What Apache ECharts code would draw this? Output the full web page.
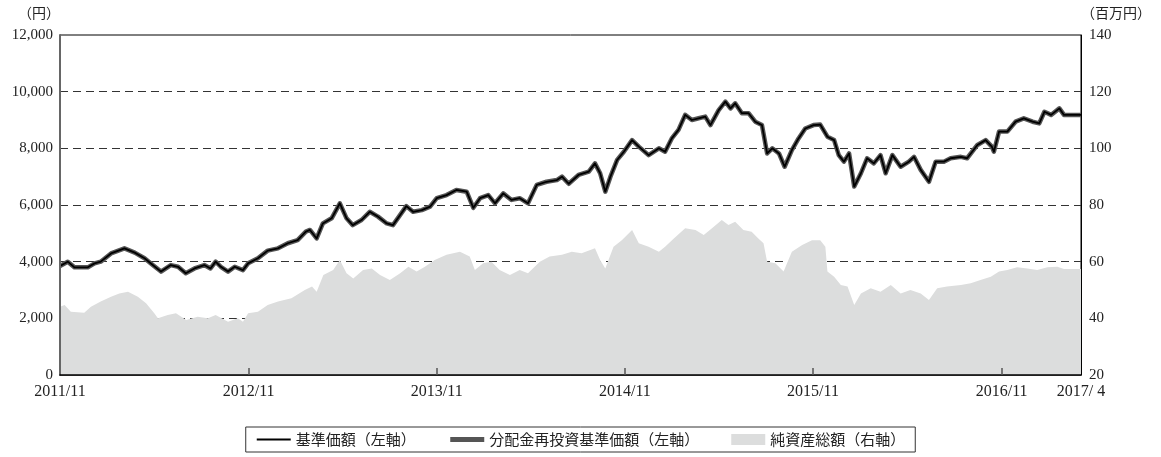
<!DOCTYPE html>
<html><head><meta charset="utf-8">
<script src="https://cdn.jsdelivr.net/npm/echarts@6/dist/echarts.min.js"></script>
<style>html,body{margin:0;padding:0;background:#fff}#c{width:1161px;height:457px}</style>
</head><body><div id="c"></div>
<script>
const navDates = ['2011-11-01','2011-11-16','2011-11-29','2011-12-25','2012-01-07','2012-01-19','2012-02-08','2012-03-05','2012-03-25','2012-04-13','2012-04-29','2012-05-15','2012-06-03','2012-06-17','2012-07-02','2012-07-19','2012-08-07','2012-08-19','2012-08-29','2012-09-08','2012-09-22','2012-10-05','2012-10-21','2012-10-31','2012-11-19','2012-12-08','2012-12-28','2013-01-16','2013-02-04','2013-02-20','2013-02-28','2013-03-13','2013-03-25','2013-04-11','2013-04-27','2013-05-10','2013-05-22','2013-06-08','2013-06-24','2013-07-10','2013-07-27','2013-08-08','2013-08-22','2013-09-03','2013-09-16','2013-10-03','2013-10-19','2013-11-01','2013-11-20','2013-12-09','2013-12-29','2014-01-11','2014-01-24','2014-02-09','2014-02-22','2014-03-10','2014-03-26','2014-04-11','2014-04-27','2014-05-14','2014-06-02','2014-06-22','2014-07-02','2014-07-15','2014-08-03','2014-08-23','2014-09-04','2014-09-14','2014-09-24','2014-10-04','2014-10-17','2014-10-30','2014-11-15','2014-11-28','2014-12-17','2015-01-06','2015-01-18','2015-01-31','2015-02-13','2015-02-26','2015-03-11','2015-03-24','2015-04-06','2015-04-16','2015-05-02','2015-05-15','2015-05-25','2015-06-03','2015-06-16','2015-06-29','2015-07-12','2015-07-25','2015-08-04','2015-08-14','2015-08-27','2015-09-07','2015-09-21','2015-10-04','2015-10-17','2015-11-02','2015-11-15','2015-11-29','2015-12-12','2015-12-21','2015-12-31','2016-01-10','2016-01-20','2016-02-02','2016-02-14','2016-02-27','2016-03-11','2016-03-21','2016-04-03','2016-04-19','2016-05-05','2016-05-15','2016-05-28','2016-06-13','2016-06-26','2016-07-12','2016-07-25','2016-08-14','2016-08-26','2016-09-15','2016-10-01','2016-10-13','2016-10-17','2016-10-27','2016-11-12','2016-11-28','2016-12-14','2016-12-31','2017-01-13','2017-01-23','2017-02-05','2017-02-21','2017-03-02','2017-04-04'];
const navValues = [3850,4000,3800,3800,3940,4000,4290,4470,4320,4120,3880,3650,3880,3820,3590,3760,3880,3760,4000,3820,3650,3820,3700,3940,4120,4390,4470,4650,4760,5060,5120,4820,5350,5530,6060,5530,5290,5470,5760,5590,5350,5290,5650,5960,5760,5820,5940,6240,6350,6530,6470,5900,6240,6350,6060,6410,6180,6240,6060,6710,6820,6880,7000,6750,7060,7180,7470,7120,6470,7000,7590,7880,8290,8060,7760,8000,7880,8350,8650,9180,9000,9060,9120,8820,9350,9650,9410,9590,9240,9240,8940,8820,7820,8000,7820,7350,7940,8350,8700,8820,8840,8410,8290,7760,7530,7820,6650,7120,7650,7470,7760,7120,7760,7350,7530,7700,7240,6820,7530,7530,7650,7700,7650,8120,8290,8060,7880,8590,8590,8940,9060,8940,8880,9290,9180,9410,9180,9180];

const aumDates = ['2011-11-01','2011-11-10','2011-11-22','2011-12-18','2011-12-31','2012-01-19','2012-02-08','2012-02-24','2012-03-12','2012-03-31','2012-04-16','2012-05-02','2012-05-09','2012-05-28','2012-06-13','2012-07-03','2012-07-25','2012-08-14','2012-08-29','2012-09-22','2012-10-11','2012-10-21','2012-10-31','2012-11-19','2012-12-08','2012-12-28','2013-01-23','2013-02-18','2013-03-04','2013-03-13','2013-03-26','2013-04-14','2013-04-27','2013-05-10','2013-05-23','2013-06-11','2013-06-28','2013-07-14','2013-08-02','2013-08-22','2013-09-07','2013-09-23','2013-10-09','2013-10-28','2013-11-20','2013-12-16','2014-01-04','2014-01-14','2014-01-30','2014-02-15','2014-03-03','2014-03-23','2014-04-11','2014-04-27','2014-05-20','2014-06-08','2014-07-02','2014-07-21','2014-08-09','2014-09-04','2014-09-14','2014-09-24','2014-10-10','2014-10-26','2014-11-15','2014-11-28','2014-12-17','2015-01-06','2015-01-18','2015-02-04','2015-02-26','2015-03-18','2015-04-03','2015-04-19','2015-05-08','2015-05-21','2015-06-03','2015-06-19','2015-07-05','2015-07-18','2015-07-28','2015-08-04','2015-08-20','2015-09-05','2015-09-21','2015-10-11','2015-10-30','2015-11-15','2015-11-25','2015-11-29','2015-12-12','2015-12-25','2016-01-07','2016-01-20','2016-02-02','2016-02-21','2016-03-11','2016-03-31','2016-04-19','2016-05-08','2016-05-28','2016-06-13','2016-06-29','2016-07-18','2016-08-14','2016-09-02','2016-09-21','2016-10-11','2016-10-27','2016-11-12','2016-12-01','2016-12-21','2017-01-09','2017-01-29','2017-02-17','2017-03-02','2017-04-04'];
const aumValues = [44.1,44.7,42.3,42.0,44.1,45.9,47.6,48.8,49.4,47.6,45.3,41.8,40.0,41.2,41.8,39.4,40.6,40.0,41.2,38.8,40.0,38.8,41.8,42.3,44.7,45.9,47.1,50.0,51.2,49.4,55.3,57.1,60.6,55.9,54.1,57.1,57.6,55.3,53.5,55.9,58.2,56.5,58.2,60.6,62.4,63.5,61.8,57.1,59.4,60.0,57.1,55.3,57.1,55.9,60.0,61.8,62.4,63.5,63.0,64.7,60.6,57.6,65.3,67.6,71.2,66.5,65.3,63.5,65.3,68.2,71.8,71.2,69.4,71.8,74.7,72.9,74.1,71.2,70.6,68.2,66.5,60.0,59.4,56.5,63.5,65.9,67.6,67.6,65.3,56.5,54.7,51.8,51.2,44.7,48.8,50.6,49.4,51.8,48.8,50.0,48.8,46.5,50.6,51.2,51.8,52.4,53.5,54.7,56.5,57.1,58.0,57.6,57.1,58.0,58.2,57.4,57.4];

const tickDates = ['2011-11-01','2012-11-01','2013-11-01','2014-11-01','2015-11-01','2016-11-01','2017-04-04'];
const tickLabels = ['2011/11','2012/11','2013/11','2014/11','2015/11','2016/11','2017/ 4'];
const leftTicks = [0,2000,4000,6000,8000,10000,12000];
const rightTicks = [20,40,60,80,100,120,140];
const seriesNames = ['基準価額（左軸）','分配金再投資基準価額（左軸）','純資産総額（右軸）'];
const leftUnit = '（円）';
const rightUnit = '（百万円）';

function toTs(s){const p=s.split('-');return Date.UTC(+p[0],+p[1]-1,+p[2]);}
const navData = navDates.map((d,i)=>[toTs(d),navValues[i]]);
const aumData = aumDates.map((d,i)=>[toTs(d),aumValues[i]]);
const tickTs = tickDates.map(toTs);

const FONT = "'Liberation Serif','Noto Sans CJK JP',serif";
const CJK = "'Noto Sans CJK JP','Liberation Serif',sans-serif";
const hideSym = {color:'rgba(0,0,0,0)',borderColor:'rgba(0,0,0,0)',borderWidth:0,opacity:0};

const chart = echarts.init(document.getElementById('c'));
chart.setOption({
  animation:false,
  grid:{left:60,right:80,top:35,bottom:82,show:true,borderColor:'#000',borderWidth:1,backgroundColor:'transparent'},
  legend:{
    data:[
      {name:seriesNames[0],itemStyle:hideSym,lineStyle:{width:2,color:'#000'}},
      {name:seriesNames[1],itemStyle:hideSym,lineStyle:{width:5,color:'#555'}},
      {name:seriesNames[2],icon:'rect'}],
    left:'center',top:427,itemWidth:34,itemHeight:11,itemGap:32,
    padding:[5,10],borderColor:'#333',borderWidth:1,
    textStyle:{fontSize:15,color:'#222',fontFamily:CJK}
  },
  xAxis:{
    type:'value',min:tickTs[0],max:tickTs[tickTs.length-1],z:10,
    axisLine:{lineStyle:{color:'#000',width:1.5}},
    axisTick:{show:true,inside:true,length:7,customValues:tickTs.slice(1,-1),lineStyle:{color:'#555',width:1.5}},
    axisLabel:{customValues:tickTs,margin:9,fontSize:16,color:'#222',fontFamily:FONT,hideOverlap:false,showMinLabel:true,showMaxLabel:true,
      formatter:function(v){let bi=0,bd=Infinity;tickTs.forEach((t,i)=>{const d=Math.abs(t-v);if(d<bd){bd=d;bi=i;}});return tickLabels[bi];}},
    splitLine:{show:false}
  },
  yAxis:[
    {type:'value',position:'left',min:leftTicks[0],max:leftTicks[leftTicks.length-1],interval:2000,z:10,
     name:leftUnit,nameLocation:'end',nameGap:22,nameTextStyle:{align:'right',verticalAlign:'middle',fontSize:14,color:'#222',fontFamily:CJK},
     axisLine:{show:true,lineStyle:{color:'#666',width:2}},axisTick:{show:false},
     axisLabel:{margin:7,fontSize:15,color:'#222',fontFamily:FONT,formatter:v=>v.toLocaleString('en-US')},
     splitLine:{show:false}},
    {type:'value',position:'right',min:rightTicks[0],max:rightTicks[rightTicks.length-1],interval:20,z:10,
     name:rightUnit,nameLocation:'end',nameGap:22,nameTextStyle:{align:'left',verticalAlign:'middle',fontSize:14,color:'#222',fontFamily:CJK},
     axisLine:{show:true,lineStyle:{color:'#000',width:1}},axisTick:{show:false},
     axisLabel:{margin:8,fontSize:15,color:'#222',fontFamily:FONT},
     splitLine:{show:false}},
    {type:'value',position:'left',min:leftTicks[0],max:leftTicks[leftTicks.length-1],interval:2000,z:0,
     axisLine:{show:false},axisTick:{show:false},axisLabel:{show:false},
     splitLine:{show:true,showMinLine:false,showMaxLine:false,lineStyle:{color:'#333',width:1.2,type:[8,5]}}}
  ],
  series:[
    {name:seriesNames[2],type:'line',yAxisIndex:1,data:aumData,symbol:'none',color:'#dcdddd',
     lineStyle:{width:0},areaStyle:{color:'#dcdddd',opacity:1},z:1},
    {name:seriesNames[1],type:'line',yAxisIndex:0,data:navData,symbol:'none',color:'#555',
     lineStyle:{width:4.5,color:'#555',join:'round'},z:3},
    {name:seriesNames[0],type:'line',yAxisIndex:0,data:navData,symbol:'none',color:'#000',
     lineStyle:{width:1.8,color:'#000',join:'round'},z:4}
  ]
});
</script></body></html>
